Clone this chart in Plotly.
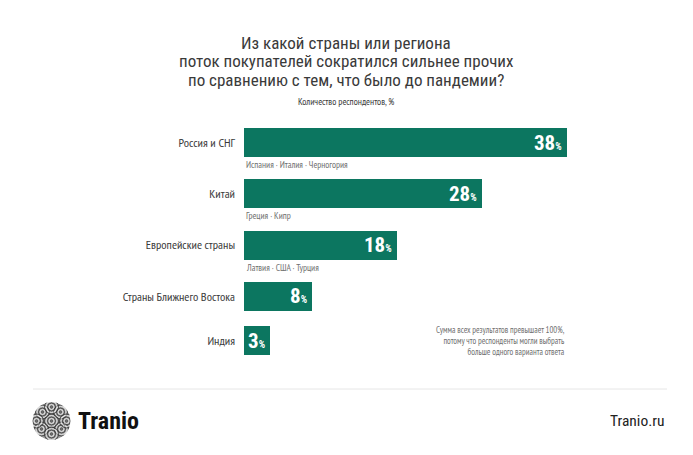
import plotly.graph_objects as go

W, H = 693, 455

categories = ["Россия и СНГ", "Китай", "Европейские страны", "Страны Ближнего Востока", "Индия"]
values = [38, 28, 18, 8, 3]
sublabels = ["Испания · Италия · Черногория", "Греция · Кипр", "Латвия · США · Турция", "", ""]

title_lines = ["Из какой страны или региона",
               "поток покупателей сократился сильнее прочих",
               "по сравнению с тем, что было до пандемии?"]
subtitle = "Количество респондентов, %"
note_lines = ["Сумма всех результатов превышает 100%,",
              "потому что респонденты могли выбрать",
              "больше одного варианта ответа"]

FONT = "Roboto Condensed, PT Sans Narrow, sans-serif"
NARROW = "PT Sans Narrow, Roboto Condensed, sans-serif"
BAR = "#0c7660"
DARK = "#3a3a3a"
GRAY = "#6f6f6f"

# layout of rows (pixel space on the y axis)
first_center = 142.7
step_with_sub = 51.2
step_no_sub = 44.2
ypos = []
c = first_center
for i, s in enumerate(sublabels):
    ypos.append(c)
    c += step_with_sub if s else step_no_sub

def px(x):
    return x / W

def py(y):
    return 1 - y / H

fig = go.Figure()
fig.add_trace(go.Bar(
    x=values, y=ypos, orientation="h", width=29,
    marker=dict(color=BAR, line=dict(width=0)),
    hoverinfo="skip",
))

x0_px = 244
scale = (567 - 244) / 38.0  # px per unit
x_max = 50
x1_px = x0_px + x_max * scale

annotations = []
# title
for i, t in enumerate(title_lines):
    annotations.append(dict(x=px(346), y=py(42.5 + i * 18.6), xref="paper", yref="paper",
                            text=t, showarrow=False, xanchor="center", yanchor="middle",
                            font=dict(family=FONT, size=17, color=DARK)))
annotations.append(dict(x=px(346), y=py(102), xref="paper", yref="paper", text=subtitle,
                        showarrow=False, xanchor="center", yanchor="middle",
                        font=dict(family=NARROW, size=9.5, color=DARK)))
# value labels
for v, yy in zip(values, ypos):
    annotations.append(dict(x=v, y=yy, xref="x", yref="y", showarrow=False,
                            xanchor="right", yanchor="middle", xshift=-3,
                            text=f"<b>{v}</b><span style='font-size:10px'><b>%</b></span>",
                            font=dict(family=FONT, size=21, color="white")))
# sublabels
for s, yy in zip(sublabels, ypos):
    if s:
        annotations.append(dict(x=0, y=yy + 22.5, xref="x", yref="y", showarrow=False,
                                xanchor="left", yanchor="middle", text=s,
                                font=dict(family=NARROW, size=9.3, color=GRAY)))
# note (one multi-line block)
annotations.append(dict(x=px(567), y=py(340.7), xref="paper", yref="paper",
                        text="<br>".join(note_lines), showarrow=False, xanchor="right",
                        yanchor="middle", align="right",
                        font=dict(family=NARROW, size=8.6, color=GRAY)))
# footer
annotations.append(dict(x=px(76), y=py(421), xref="paper", yref="paper", text="<b>Tranio</b>",
                        showarrow=False, xanchor="left", yanchor="middle",
                        font=dict(family=FONT, size=24, color="#111")))
annotations.append(dict(x=px(667), y=py(421), xref="paper", yref="paper", text="Tranio.ru",
                        showarrow=False, xanchor="right", yanchor="middle",
                        font=dict(family=FONT, size=15.5, color="#222")))

shapes = [dict(type="line", xref="paper", yref="paper", x0=px(33), x1=px(667),
               y0=py(389), y1=py(389), line=dict(color="#e6e6e6", width=1))]
# logo: circle with concentric ring motifs
cx, cy, r = 51.5, 421, 18.5
shapes.append(dict(type="circle", xref="paper", yref="paper", x0=px(cx - r), x1=px(cx + r),
                   y0=py(cy + r), y1=py(cy - r), fillcolor="#a0a0a0", line=dict(color="#777", width=0.5)))
centers = [(cx, cy), (cx - 9, cy - 9), (cx + 9, cy - 9), (cx - 10, cy + 8), (cx + 10, cy + 8),
           (cx, cy - 14), (cx, cy + 13), (cx - 15, cy), (cx + 15, cy)]
for (ax, ay) in centers:
    for rr, col in [(7, "#333"), (5.5, "#eee"), (4, "#333"), (2.5, "#eee"), (1, "#333")]:
        shapes.append(dict(type="circle", xref="paper", yref="paper",
                           x0=px(ax - rr), x1=px(ax + rr), y0=py(ay + rr), y1=py(ay - rr),
                           fillcolor="rgba(0,0,0,0)", line=dict(color=col, width=0.8)))
# mask overflow outside the logo circle
shapes.append(dict(type="circle", xref="paper", yref="paper", x0=px(cx - r - 5), x1=px(cx + r + 5),
                   y0=py(cy + r + 5), y1=py(cy - r - 5), fillcolor="rgba(0,0,0,0)",
                   line=dict(color="white", width=9)))

fig.update_layout(
    width=W, height=H, margin=dict(l=0, r=0, t=0, b=0),
    paper_bgcolor="white", plot_bgcolor="white", showlegend=False,
    xaxis=dict(domain=[px(x0_px), px(x1_px)], range=[0, x_max], visible=False, fixedrange=True),
    yaxis=dict(domain=[0, 1], range=[H, 0], showgrid=False, zeroline=False, showline=False,
               tickvals=ypos, ticktext=categories, ticks="", ticklabelstandoff=8,
               tickfont=dict(family=NARROW, size=12.3, color=DARK), fixedrange=True),
    annotations=annotations, shapes=shapes, bargap=0,
)

fig.write_html("out.html")
